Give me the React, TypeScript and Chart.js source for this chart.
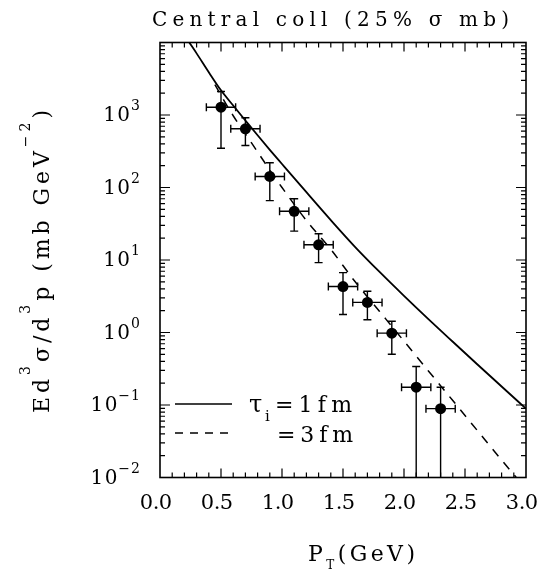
import React, { useEffect, useRef } from "react";
import { Chart, registerables } from "chart.js";

Chart.register(...registerables);

// ---- data ----
const ptValues = [0.5, 0.7, 0.9, 1.1, 1.3, 1.5, 1.7, 1.9, 2.1, 2.3];
const yieldValues = [1280, 645, 142, 47, 16.2, 4.3, 2.6, 0.98, 0.176, 0.089];
const yieldHigh = [2110, 915, 219, 70, 23, 6.7, 3.7, 1.43, 0.34, 0.176];
const yieldLow = [348, 380, 66, 25, 9.2, 1.77, 1.5, 0.5, 0.01, 0.01];
const ptErr = [0.12, 0.12, 0.12, 0.12, 0.12, 0.12, 0.12, 0.12, 0.12, 0.12];

const curve1X = [0.24, 0.3, 0.4, 0.5, 0.6, 0.7, 0.8, 0.9, 1.0, 1.2, 1.4, 1.6, 1.8, 2.0, 2.2, 2.4, 2.6, 2.8, 3.0];
const curve1Y = [10000, 7080, 3890, 2190, 1350, 841, 525, 331, 211, 86.1, 35.5, 15.1, 6.84, 3.2, 1.53, 0.745, 0.365, 0.18, 0.089];
const curve3X = [0.45, 0.5, 0.6, 0.7, 0.8, 0.9, 1.0, 1.2, 1.4, 1.6, 1.8, 2.0, 2.2, 2.4, 2.6, 2.8, 2.92];
const curve3Y = [2630, 1860, 977, 550, 309, 174, 100, 35, 14, 5.0, 1.95, 0.76, 0.295, 0.115, 0.0447, 0.0174, 0.01];

const xTickValues = [0, 0.5, 1.0, 1.5, 2.0, 2.5, 3.0];
const xTickLabels = ["0.0", "0.5", "1.0", "1.5", "2.0", "2.5", "3.0"];
const yTickExponents = [3, 2, 1, 0, -1, -2];

const titleText = "Central coll (25% \u03c3 mb)";
const legendLabels = ["=1fm", "=3fm"];

const FONT = '"DejaVu Serif", "Liberation Serif", serif';

type Seg = { t: string; size: number; dy?: number };

function measureRich(ctx: CanvasRenderingContext2D, segs: Seg[]) {
  let w = 0;
  let n = 0;
  for (const s of segs) {
    ctx.font = `${s.size}px ${FONT}`;
    for (const ch of s.t) {
      w += ctx.measureText(ch).width;
      n++;
    }
  }
  return { w, n };
}

function drawRich(
  ctx: CanvasRenderingContext2D,
  segs: Seg[],
  x: number,
  y: number,
  opts: { target?: number; spacing?: number; alignRight?: boolean; center?: boolean } = {}
) {
  const { w, n } = measureRich(ctx, segs);
  let spacing = opts.spacing ?? 0;
  if (opts.target !== undefined && n > 1) spacing = (opts.target - w) / (n - 1);
  const total = w + spacing * (n - 1);
  let cx = opts.alignRight ? x - total : opts.center ? x - total / 2 : x;
  ctx.textAlign = "left";
  ctx.textBaseline = "alphabetic";
  for (const s of segs) {
    ctx.font = `${s.size}px ${FONT}`;
    for (const ch of s.t) {
      ctx.fillText(ch, cx, y + (s.dy ?? 0));
      cx += ctx.measureText(ch).width + spacing;
    }
  }
  return total;
}

const decorPlugin = {
  id: "decor",
  beforeDatasetsDraw(chart: any) {
    const ctx: CanvasRenderingContext2D = chart.ctx;
    const xs = chart.scales.x;
    const ys = chart.scales.y;
    ctx.save();
    ctx.strokeStyle = "#000";
    ctx.lineWidth = 1.4;
    const cap = 4;
    for (let i = 0; i < ptValues.length; i++) {
      const px = xs.getPixelForValue(ptValues[i]);
      const py = ys.getPixelForValue(yieldValues[i]);
      const pyH = ys.getPixelForValue(yieldHigh[i]);
      const pyL = ys.getPixelForValue(Math.max(yieldLow[i], ys.min));
      const pxL = xs.getPixelForValue(ptValues[i] - ptErr[i]);
      const pxR = xs.getPixelForValue(ptValues[i] + ptErr[i]);
      ctx.beginPath();
      ctx.moveTo(px, pyH);
      ctx.lineTo(px, pyL);
      ctx.moveTo(px - cap, pyH);
      ctx.lineTo(px + cap, pyH);
      if (yieldLow[i] > ys.min) {
        ctx.moveTo(px - cap, pyL);
        ctx.lineTo(px + cap, pyL);
      }
      ctx.moveTo(pxL, py);
      ctx.lineTo(pxR, py);
      ctx.moveTo(pxL, py - cap);
      ctx.lineTo(pxL, py + cap);
      ctx.moveTo(pxR, py - cap);
      ctx.lineTo(pxR, py + cap);
      ctx.stroke();
    }
    ctx.restore();
  },
  afterDraw(chart: any) {
    const ctx: CanvasRenderingContext2D = chart.ctx;
    const { left, right, top, bottom } = chart.chartArea;
    const xs = chart.scales.x;
    const ys = chart.scales.y;
    ctx.save();
    ctx.fillStyle = "#000";
    ctx.strokeStyle = "#000";

    // frame
    ctx.lineWidth = 1.6;
    ctx.strokeRect(left, top, right - left, bottom - top);

    // x ticks (inward, bottom and top)
    ctx.lineWidth = 1.2;
    ctx.beginPath();
    for (let k = 1; k < 30; k++) {
      const v = k / 10;
      const major = k % 5 === 0;
      const len = major ? 9 : 5;
      const px = xs.getPixelForValue(v);
      ctx.moveTo(px, bottom);
      ctx.lineTo(px, bottom - len);
      ctx.moveTo(px, top);
      ctx.lineTo(px, top + len);
    }
    // y ticks (inward, left and right)
    for (let d = -2; d <= 3; d++) {
      for (let m = 1; m <= 9; m++) {
        const v = m * Math.pow(10, d);
        if (v <= ys.min || v >= ys.max) continue;
        const len = m === 1 ? 10 : 5;
        const py = ys.getPixelForValue(v);
        ctx.moveTo(left, py);
        ctx.lineTo(left + len, py);
        ctx.moveTo(right, py);
        ctx.lineTo(right - len, py);
      }
    }
    ctx.stroke();

    // x tick labels
    xTickValues.forEach((v, i) => {
      const px = xs.getPixelForValue(v);
      drawRich(ctx, [{ t: xTickLabels[i], size: 21 }], px - 4, bottom + 31, { spacing: -0.5, center: true });
    });

    // y tick labels
    yTickExponents.forEach((e) => {
      const py = ys.getPixelForValue(Math.pow(10, e));
      const exp = e < 0 ? "\u2212" + String(-e) : String(e);
      const rightEdge = 140;
      const expW = drawRich(ctx, [{ t: exp, size: 14 }], rightEdge, py - 5, { spacing: 1, alignRight: true });
      drawRich(ctx, [{ t: "10", size: 20 }], rightEdge - expW - 1, py + 6, { spacing: 1.5, alignRight: true });
    });

    // main title
    drawRich(ctx, [{ t: titleText, size: 20 }], 152, 26, { target: 357 });

    // x axis title
    drawRich(
      ctx,
      [
        { t: "P", size: 22 },
        { t: "T", size: 12, dy: 8 },
        { t: "(GeV)", size: 22 },
      ],
      308,
      561,
      { target: 107 }
    );

    // y axis title (rotated)
    ctx.save();
    ctx.translate(49, 413);
    ctx.rotate(-Math.PI / 2);
    drawRich(
      ctx,
      [
        { t: "Ed", size: 22 },
        { t: "3", size: 14, dy: -19 },
        { t: "\u03c3/d", size: 22 },
        { t: "3", size: 14, dy: -19 },
        { t: "p (mb GeV", size: 22 },
        { t: "\u22122", size: 14, dy: -19 },
        { t: ")", size: 22 },
      ],
      0,
      0,
      { target: 303 }
    );
    ctx.restore();

    // legend
    const lx0 = left + 15;
    const lx1 = left + 72;
    const ly1 = 404;
    const ly2 = 433;
    ctx.lineWidth = 1.6;
    ctx.setLineDash([]);
    ctx.beginPath();
    ctx.moveTo(lx0, ly1);
    ctx.lineTo(lx1, ly1);
    ctx.stroke();
    ctx.lineWidth = 1.4;
    ctx.setLineDash([8, 7]);
    ctx.beginPath();
    ctx.moveTo(lx0, ly2);
    ctx.lineTo(lx1, ly2);
    ctx.stroke();
    ctx.setLineDash([]);

    drawRich(ctx, [{ t: "\u03c4", size: 24 }], 249, 412);
    drawRich(ctx, [{ t: "i", size: 15 }], 265, 421);
    drawRich(ctx, [{ t: legendLabels[0], size: 22 }], 275, 412, { target: 77 });
    drawRich(ctx, [{ t: legendLabels[1], size: 22 }], 277, 441.5, { target: 76 });

    ctx.restore();
  },
};

export default function App() {
  const canvasRef = useRef<HTMLCanvasElement | null>(null);

  useEffect(() => {
    const canvas = canvasRef.current;
    if (!canvas) return;
    const chart = new Chart(canvas, {
      type: "scatter",
      data: {
        datasets: [
          {
            label: "tau_i = 1fm",
            data: curve1X.map((x, i) => ({ x, y: curve1Y[i] })),
            showLine: true,
            borderColor: "#000",
            borderWidth: 1.8,
            pointRadius: 0,
            cubicInterpolationMode: "monotone",
          },
          {
            label: "tau_i = 3fm",
            data: curve3X.map((x, i) => ({ x, y: curve3Y[i] })),
            showLine: true,
            borderColor: "#000",
            borderWidth: 1.5,
            borderDash: [9, 8],
            pointRadius: 0,
            cubicInterpolationMode: "monotone",
          },
          {
            label: "data",
            data: ptValues.map((x, i) => ({ x, y: yieldValues[i] })),
            showLine: false,
            pointRadius: 5.5,
            pointBackgroundColor: "#000",
            pointBorderColor: "#000",
            pointBorderWidth: 0,
          },
        ],
      },
      options: {
        animation: false,
        responsive: false,
        devicePixelRatio: 1,
        layout: { padding: { left: 160, top: 42.5, right: 24, bottom: 93.5 } },
        plugins: { legend: { display: false }, tooltip: { enabled: false }, title: { display: false } },
        scales: {
          x: { type: "linear", min: 0, max: 3, display: false },
          y: { type: "logarithmic", min: 0.01, max: 10000, display: false },
        },
      } as any,
      plugins: [decorPlugin],
    });
    return () => chart.destroy();
  }, []);

  return (
    <div style={{ position: "absolute", left: 0, top: 0, width: 550, height: 571, background: "#fff" }}>
      <canvas ref={canvasRef} width={550} height={571} style={{ display: "block", width: 550, height: 571 }} />
    </div>
  );
}
